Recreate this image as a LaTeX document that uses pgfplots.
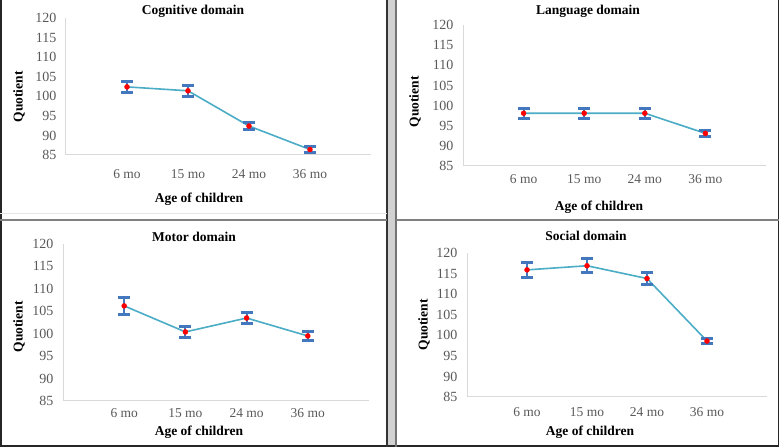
\documentclass[border=0pt]{standalone}
\usepackage{fontspec}
\setmainfont{Liberation Serif}
\usepackage{pgfplots}
\pgfplotsset{compat=1.18}
\definecolor{linec}{RGB}{75,172,198}
\definecolor{errc}{RGB}{68,120,190}
\definecolor{tickc}{RGB}{89,89,89}
\definecolor{axc}{RGB}{217,217,217}
\pgfplotsset{panel/.style={
  scale only axis, anchor=south west,
  xmin=0, xmax=5, ymin=85, ymax=120,
  ytick={85,90,...,120},
  xtick={1,2,3,4}, xticklabels={6 mo,15 mo,24 mo,36 mo},
  axis x line*=bottom, axis y line*=left,
  axis line style={axc, line width=1pt, -},
  major tick length=0pt,
  tick label style={text=tickc},
  xticklabel style={font=\fontsize{13.5}{15}\selectfont},
  yticklabel style={font=\fontsize{14}{16}\selectfont, xshift=-6pt},
  /pgf/number format/assume math mode=true,
  clip=false},
 linepl/.style={linec, line width=1.6pt, no marks},
 errpl/.style={only marks, mark=*, mark size=2.5pt, mark options={fill=red, draw=red},
   error bars/.cd, y dir=both, y explicit,
   error bar style={errc, line width=2pt},
   error mark options={errc, line width=3pt, mark size=6pt, rotate=90}}
}
\begin{document}
\begin{tikzpicture}
\path[use as bounding box] (0pt,0pt) rectangle (779pt,447pt);
% frames
\fill[black!18] (388pt,0pt) rectangle (395pt,447pt);
\draw[black!85, line width=1.5pt] (0.75pt,0pt) -- (0.75pt,447pt);
\draw[black!85, line width=1.5pt] (778.25pt,0pt) -- (778.25pt,447pt);
\draw[black!85, line width=1.5pt] (0pt,0.75pt) -- (779pt,0.75pt);
\draw[black!80, line width=1.5pt] (387pt,0pt) -- (387pt,447pt);
\draw[black!55, line width=1.5pt] (396pt,0pt) -- (396pt,447pt);
\draw[black!50, line width=2pt] (0pt,227pt) -- (387pt,227pt);
\draw[black!50, line width=2pt] (396pt,227pt) -- (779pt,227pt);
\draw[black!10, line width=1pt] (0pt,233pt) -- (387pt,233pt);
% Cognitive
\begin{axis}[panel, at={(66pt,292pt)}, width=305pt, height=137pt, xticklabel style={yshift=-11pt}]
\addplot[linepl] coordinates {(1,102.4) (2,101.4) (3,92.4) (4,86.4)};
\addplot[errpl] coordinates {(1,102.4) +- (0,1.5) (2,101.4) +- (0,1.35) (3,92.4) +- (0,1.0) (4,86.4) +- (0,0.8)};
\end{axis}
% Language
\begin{axis}[panel, at={(463pt,281pt)}, width=303pt, height=141pt, xticklabel style={yshift=-5pt}]
\addplot[linepl] coordinates {(1,98.1) (2,98.1) (3,98.1) (4,93.1)};
\addplot[errpl] coordinates {(1,98.1) +- (0,1.2) (2,98.1) +- (0,1.2) (3,98.1) +- (0,1.2) (4,93.1) +- (0,0.7)};
\end{axis}
% Motor
\begin{axis}[panel, at={(63pt,46pt)}, width=306pt, height=157pt, xticklabel style={yshift=-4pt}]
\addplot[linepl] coordinates {(1,106.2) (2,100.4) (3,103.5) (4,99.5)};
\addplot[errpl] coordinates {(1,106.2) +- (0,1.9) (2,100.4) +- (0,1.2) (3,103.5) +- (0,1.2) (4,99.5) +- (0,1.0)};
\end{axis}
% Social
\begin{axis}[panel, at={(467pt,50pt)}, width=300pt, height=144pt, xticklabel style={yshift=-7pt}]
\addplot[linepl] coordinates {(1,115.9) (2,116.9) (3,113.8) (4,98.6)};
\addplot[errpl] coordinates {(1,115.9) +- (0,1.8) (2,116.9) +- (0,1.65) (3,113.8) +- (0,1.45) (4,98.6) +- (0,0.7)};
\end{axis}
% titles and labels
\begin{scope}[every node/.style={font=\fontsize{13.5}{15}\selectfont\bfseries}]
\node at (193pt,436pt) {Cognitive domain};
\node at (588pt,436pt) {Language domain};
\node at (194pt,210pt) {Motor domain};
\node at (586pt,211pt) {Social domain};
\node at (199pt,248pt) {Age of children};
\node at (599pt,240pt) {Age of children};
\node at (199pt,15pt) {Age of children};
\node at (590pt,15pt) {Age of children};
\node[rotate=90] at (19pt,350pt) {Quotient};
\node[rotate=90] at (415pt,345pt) {Quotient};
\node[rotate=90] at (19pt,120pt) {Quotient};
\node[rotate=90] at (424pt,122pt) {Quotient};
\end{scope}
\end{tikzpicture}
\end{document}
